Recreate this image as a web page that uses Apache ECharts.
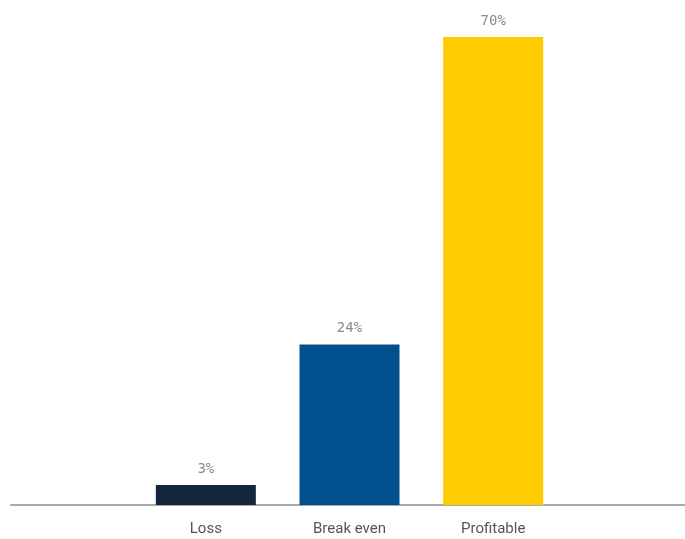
<!DOCTYPE html>
<html><head><meta charset="utf-8">
<script src="https://cdn.jsdelivr.net/npm/echarts@6/dist/echarts.min.js"></script>
<style>html,body{margin:0;padding:0;background:#fff}#c{width:685px;height:539px}</style>
</head><body><div id="c"></div>
<script>
const categories = ['Loss', 'Break even', 'Profitable'];
const values = [3, 24, 70];
const colors = ['#14263d', '#00508f', '#ffcc00'];

const chart = echarts.init(document.getElementById('c'), null, {renderer: 'canvas'});
chart.setOption({
  animation: false,
  grid: [
    {left: 134, right: 120, top: 37, bottom: 34},
    {left: 11, right: 0, top: 37, bottom: 34}
  ],
  xAxis: [
    {gridIndex: 0, type: 'category', data: categories,
     axisLine: {show: false}, axisTick: {show: false},
     axisLabel: {color: '#555', fontSize: 15, margin: 17, fontFamily: 'Roboto, sans-serif'}},
    {gridIndex: 1, type: 'category', data: [''],
     axisLine: {show: true, lineStyle: {color: '#aaa', width: 2}},
     axisTick: {show: false}, axisLabel: {show: false}}
  ],
  yAxis: [
    {gridIndex: 0, type: 'value', min: 0, max: 70, show: false, splitLine: {show: false}},
    {gridIndex: 1, type: 'value', min: 0, max: 70, show: false, splitLine: {show: false}}
  ],
  series: [{
    type: 'bar',
    xAxisIndex: 0, yAxisIndex: 0,
    barWidth: 100,
    z: 3,
    data: values.map((v, i) => ({value: v, itemStyle: {color: colors[i]}})),
    label: {show: true, position: 'top', distance: 9, formatter: '{c}%',
      color: '#8a8a8a', fontSize: 14, fontFamily: 'DejaVu Sans Mono, monospace'}
  }]
});
</script></body></html>
